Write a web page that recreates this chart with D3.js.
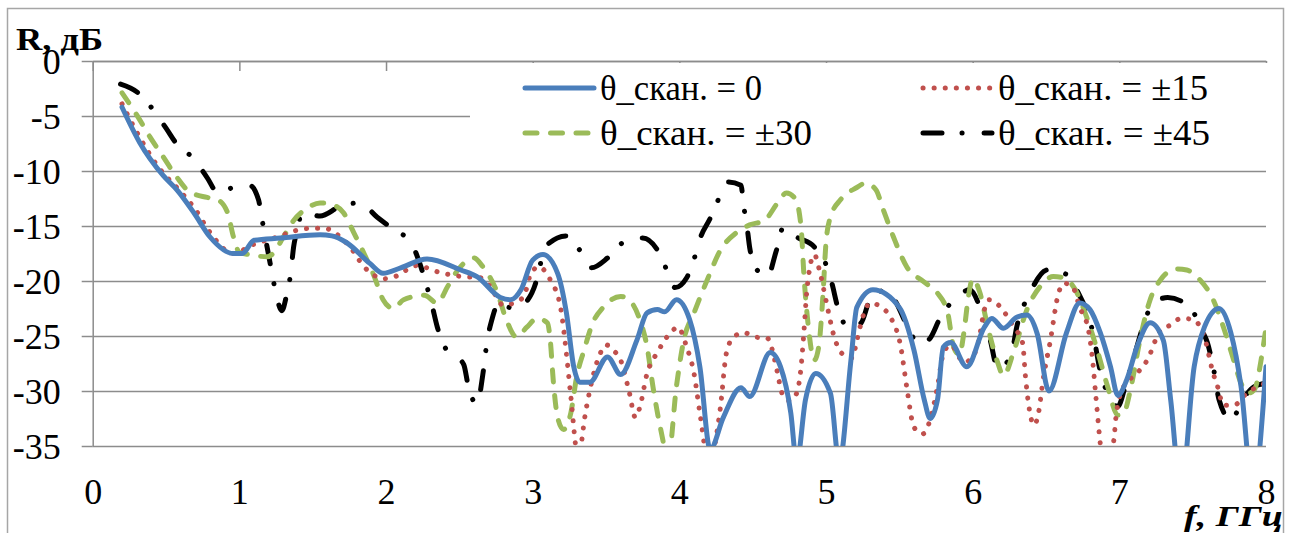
<!DOCTYPE html>
<html>
<head>
<meta charset="utf-8">
<script src="https://cdn.jsdelivr.net/npm/d3@7"></script>
<style>
  html, body { margin: 0; padding: 0; background: #fff; }
  svg { display: block; }
</style>
</head>
<body>
<svg id="chart" width="1294" height="533"></svg>
<script>
// Reflection coefficient R (dB) versus frequency f (GHz) for several scan angles.
const xTicks = [0, 1, 2, 3, 4, 5, 6, 7, 8];
const yTicks = [0, -5, -10, -15, -20, -25, -30, -35];

const seriesLabels = ["θ_скан. = 0", "θ_скан. = ±15", "θ_скан. = ±30", "θ_скан. = ±45"];

const freq0 = [0.2,0.32,0.48,0.58,0.69,0.8,0.96,1.02,1.1,1.28,1.55,1.63,1.73,1.89,1.98,2.1,2.28,2.51,2.62,2.78,2.85,2.92,3.0,3.07,3.17,3.23,3.28,3.32,3.39,3.51,3.6,3.71,3.78,3.85,3.9,3.98,4.07,4.14,4.21,4.3,4.42,4.48,4.62,4.69,4.76,4.8,4.86,4.93,5.03,5.09,5.17,5.21,5.32,5.5,5.6,5.67,5.71,5.76,5.8,5.85,5.96,6.08,6.13,6.21,6.3,6.37,6.44,6.52,6.64,6.73,6.8,6.87,6.94,6.99,7.05,7.12,7.21,7.3,7.35,7.42,7.51,7.58,7.68,7.76,7.83,7.91,8.0];
const r0 = [-4.2,-7.4,-10.4,-11.8,-13.8,-16.0,-17.5,-17.5,-16.3,-16.1,-15.8,-15.9,-16.5,-18.4,-19.3,-18.8,-18.0,-19.0,-19.6,-21.5,-21.7,-20.8,-18.1,-17.6,-19.3,-22.9,-27.8,-29.2,-29.2,-26.9,-28.5,-25.4,-22.9,-22.6,-22.8,-21.7,-23.5,-27.8,-35.3,-32.4,-29.7,-30.5,-26.5,-27.8,-32,-36.5,-30.8,-28.4,-30.2,-36.5,-27.2,-22.4,-20.8,-22.4,-26.3,-30.8,-32.5,-30.8,-26,-25.6,-27.8,-24.2,-23.4,-24.3,-23.3,-23.1,-24.8,-30.0,-24.7,-22,-22.6,-24.7,-27.8,-30.4,-29,-26,-23.8,-25.4,-30.8,-39,-27.8,-24.2,-22.5,-24.7,-29.6,-39,-27.8];

const freq15 = [0.2,0.31,0.44,0.6,0.7,0.79,0.96,1.09,1.26,1.39,1.5,1.58,1.66,1.76,1.85,1.92,1.98,2.06,2.21,2.36,2.52,2.64,2.71,2.8,2.87,2.94,2.98,3.04,3.12,3.19,3.23,3.26,3.31,3.36,3.39,3.46,3.5,3.55,3.6,3.66,3.7,3.73,3.78,3.85,3.94,3.99,4.05,4.1,4.14,4.2,4.28,4.32,4.37,4.44,4.52,4.6,4.63,4.67,4.7,4.75,4.8,4.83,4.85,4.87,4.92,4.96,5.01,5.05,5.11,5.18,5.21,5.26,5.3,5.38,5.44,5.51,5.55,5.6,5.66,5.71,5.76,5.8,5.85,5.94,6.0,6.04,6.08,6.11,6.16,6.24,6.28,6.34,6.36,6.38,6.42,6.45,6.48,6.53,6.58,6.62,6.68,6.73,6.79,6.82,6.84,6.9,6.96,6.98,7.03,7.12,7.19,7.28,7.35,7.42,7.5,7.58,7.64,7.67,7.71,7.78,7.87,7.96,8.0];
const r15 = [-3.9,-6.7,-9.5,-11.9,-13.5,-15.4,-17.5,-16.7,-16.0,-15.4,-15.2,-15.2,-15.7,-17,-18.7,-19.5,-19.8,-19.6,-18.6,-19.2,-19.6,-19.7,-20.5,-22.2,-22,-21.4,-19.6,-18.7,-19.9,-22.4,-26.6,-30.5,-36,-32,-29.9,-26.6,-25.8,-26.3,-27.2,-30.2,-32.4,-31.5,-28.4,-26.5,-24.7,-24.2,-26,-28.4,-32,-36.5,-31.5,-26.6,-25.1,-24.7,-25.1,-25.2,-26.1,-28.4,-30.2,-30.9,-30.2,-27.8,-24.5,-20.8,-17.6,-19.3,-22.4,-24.8,-26.6,-27,-25.4,-22.9,-22,-22.4,-23.3,-26,-29.6,-33.3,-33.9,-32.6,-29.6,-26.6,-25.8,-27.4,-26.9,-25.5,-22.6,-21.7,-22,-23.3,-24.2,-25.6,-28.7,-31.1,-33.1,-31.9,-29,-25.4,-21.4,-20.2,-20.5,-22.4,-24.5,-27.5,-30.5,-37,-34.7,-32,-29.6,-28.4,-27.2,-24.5,-24,-23.4,-23.5,-25.1,-28.4,-29.6,-31.3,-31.3,-30.2,-29.5,-29.3];

const freq30 = [0.2,0.3,0.39,0.48,0.57,0.66,0.78,0.85,0.92,0.96,1.0,1.07,1.19,1.23,1.3,1.37,1.46,1.55,1.64,1.71,1.78,1.85,1.92,1.98,2.05,2.12,2.26,2.35,2.42,2.49,2.6,2.66,2.76,2.82,2.89,2.96,3.03,3.1,3.12,3.14,3.17,3.21,3.26,3.3,3.35,3.41,3.48,3.6,3.67,3.73,3.78,3.82,3.87,3.925,3.98,4.03,4.1,4.19,4.28,4.39,4.48,4.58,4.67,4.73,4.79,4.83,4.85,4.88,4.92,4.95,4.98,5.0,5.03,5.1,5.21,5.27,5.34,5.39,5.46,5.55,5.67,5.76,5.83,5.87,5.91,5.94,5.97,6.0,6.05,6.1,6.17,6.21,6.28,6.37,6.46,6.55,6.62,6.7,6.78,6.85,6.92,6.99,7.03,7.08,7.14,7.21,7.28,7.39,7.46,7.55,7.64,7.71,7.78,7.83,7.88,7.92,7.97,8.0];
const r30 = [-2.9,-4.9,-6.9,-8.7,-10.5,-11.9,-12.4,-12.6,-13.8,-16,-17.4,-17.6,-17.8,-17.5,-16,-14.5,-13.4,-12.9,-13.1,-13.8,-15.6,-17.5,-19.6,-21.7,-22.5,-21.7,-21.3,-22,-20.5,-19,-17.9,-18.7,-21.1,-23.5,-25.1,-24.2,-23.4,-23.8,-25.4,-29,-32.4,-33.5,-32,-28.7,-26.3,-23.8,-22.4,-21.4,-21.9,-23.5,-26,-29.6,-33.3,-36,-29.6,-25.4,-22.9,-19.9,-17.2,-15.6,-14.9,-14.5,-12.9,-12,-12.5,-15.1,-19.6,-24.2,-27.2,-26,-21.1,-16.5,-14.2,-12.6,-11.5,-11.1,-11.7,-13.5,-16,-18.7,-20.1,-21.1,-22.9,-26,-26.7,-24.7,-21.5,-19.8,-21.1,-24,-27.4,-28.6,-26.4,-22.6,-20.5,-19.6,-19.7,-20.8,-23.4,-26.3,-29.6,-32.2,-32,-29.6,-25.4,-21.7,-19.9,-18.9,-19,-19.9,-21.7,-24.2,-27.2,-29.3,-30.2,-29.9,-26.9,-24.2];

const freq45 = [0.19,0.31,0.41,0.5,0.57,0.69,0.78,0.85,0.96,1.07,1.13,1.16,1.21,1.24,1.29,1.32,1.35,1.37,1.39,1.43,1.55,1.69,1.82,1.94,2.05,2.17,2.23,2.27,2.31,2.35,2.4,2.47,2.53,2.56,2.62,2.66,2.69,2.72,2.77,2.84,2.9,2.95,3.02,3.06,3.1,3.23,3.35,3.4,3.52,3.64,3.75,3.86,3.93,3.97,4.05,4.11,4.14,4.21,4.28,4.33,4.42,4.44,4.46,4.48,4.53,4.6,4.66,4.71,4.8,4.92,5.0,5.04,5.08,5.16,5.24,5.3,5.42,5.48,5.55,5.64,5.71,5.78,5.89,5.98,6.05,6.12,6.17,6.26,6.3,6.39,6.51,6.67,6.71,6.77,6.82,6.87,6.92,6.99,7.04,7.1,7.16,7.23,7.33,7.49,7.55,7.6,7.64,7.68,7.76,7.85,7.92,8.0];
const r45 = [-2.1,-2.9,-4.4,-6.1,-7.5,-8.9,-10.6,-11.9,-11.5,-11.3,-12.6,-14.8,-18.4,-20.5,-22.7,-21.4,-19.3,-16.9,-15.6,-13.8,-14.1,-13.2,-12.9,-14.2,-15.3,-16.5,-18.4,-20.1,-22,-24.2,-26,-26.8,-27.6,-29.5,-31.2,-28.5,-25.4,-23.6,-22,-22.4,-22.5,-22,-20.2,-18.1,-16.7,-15.9,-17.8,-18.8,-17.8,-16.3,-16.1,-17.4,-19.5,-20.6,-19.7,-17.6,-16.2,-14.3,-12.2,-11,-11.3,-13.3,-14.9,-17,-19,-19.6,-17.3,-15.1,-16,-16.9,-18.5,-20.2,-22.4,-24.3,-23.8,-21.7,-20.8,-22,-24,-25.8,-25.2,-23.3,-21.5,-20.8,-22.4,-25.4,-27.9,-26.9,-24.2,-21.1,-19,-19.6,-20.8,-22.5,-24.7,-28.2,-30.2,-31.4,-29.6,-26.9,-24.2,-22,-21.5,-22.5,-24.2,-25.6,-27.8,-30.8,-32.6,-30.6,-29.6,-29.3];

const seriesFreq = [freq0, freq15, freq30, freq45];
const seriesR = [r0, r15, r30, r45];

// Line styles for each scan angle
const styles = [
  { color: "#4A7EBB", width: 5, dash: null },
  { color: "#C0504D", width: 5, dash: "0.1 11" },
  { color: "#9BBB59", width: 5, dash: "12 13.5" },
  { color: "#000000", width: 5, dash: "19 20 0.1 22" }
];

const FONT = '"Liberation Serif"';

// apply the serif face directly to a text selection
function serif(sel, size) {
  return sel.attr("font-family", "Liberation Serif")
    .style("font-family", FONT)
    .style("font-size", size + "px")
    .attr("fill", "#000");
}

const svg = d3.select("#chart");
const plot = { left: 92.7, right: 1266, top: 61, bottom: 446 };

// outer chart frame
svg.append("rect")
  .attr("x", 7.5).attr("y", 8.5)
  .attr("width", 1276).attr("height", 560)
  .attr("fill", "#fff").attr("stroke", "#a6a6a6").attr("stroke-width", 1.5);

const x = d3.scaleLinear().domain([0, 8]).range([plot.left, plot.right]);
const y = d3.scaleLinear().domain([-35, 0]).range([plot.bottom, plot.top]);

const gridColor = "#8c8c8c";

// horizontal gridlines
const grid = svg.append("g")
  .attr("transform", `translate(${plot.left},0)`)
  .call(d3.axisLeft(y).tickValues(yTicks).tickSize(-(plot.right - plot.left)).tickFormat(""));
grid.select(".domain").remove();
grid.selectAll("line").attr("stroke", gridColor).attr("stroke-width", 1.5);

// y axis: tick marks and labels
const yAxis = svg.append("g")
  .attr("transform", `translate(${plot.left},0)`)
  .call(d3.axisLeft(y).tickValues(yTicks).tickSizeInner(11).tickSizeOuter(0).tickPadding(21)
    .tickFormat(d => d === 0 ? "0" : "-" + Math.abs(d)));
yAxis.attr("font-family", null).attr("font-size", null);
yAxis.select(".domain").attr("stroke", gridColor).attr("stroke-width", 1.5);
yAxis.selectAll("line").attr("stroke", gridColor).attr("stroke-width", 1.5);
serif(yAxis.selectAll("text"), 36).attr("dy", "0.34em");

// x axis tick marks along the zero line
const xTickAxis = svg.append("g")
  .attr("transform", `translate(0,${plot.top})`)
  .call(d3.axisBottom(x).tickValues(xTicks).tickSizeInner(10).tickSizeOuter(0).tickFormat(""));
xTickAxis.select(".domain").attr("stroke", gridColor).attr("stroke-width", 1.5);
xTickAxis.selectAll("line").attr("stroke", gridColor).attr("stroke-width", 1.5);

// x axis labels below the plot
const xLabelAxis = svg.append("g")
  .attr("transform", `translate(0,${plot.bottom})`)
  .call(d3.axisBottom(x).tickValues(xTicks).tickSize(0).tickPadding(32).tickFormat(d3.format("d")));
xLabelAxis.attr("font-family", null).attr("font-size", null);
xLabelAxis.select(".domain").remove();
serif(xLabelAxis.selectAll("text"), 36);

// clip curves to the plot area
svg.append("clipPath").attr("id", "plotClip")
  .append("rect")
  .attr("x", plot.left).attr("y", plot.top)
  .attr("width", plot.right - plot.left).attr("height", plot.bottom - plot.top);

const line = d3.line()
  .x(d => x(d[0]))
  .y(d => y(d[1]))
  .curve(d3.curveMonotoneX);

// legend background
const legend = svg.append("g");
legend.append("rect")
  .attr("x", 470).attr("y", 63)
  .attr("width", 800).attr("height", 104)
  .attr("fill", "#fff");

const curves = svg.append("g").attr("clip-path", "url(#plotClip)");

// draw order: dash-dot, dashed, dotted, then solid on top
[3, 2, 1, 0].forEach(i => {
  const s = styles[i];
  const pts = d3.zip(seriesFreq[i], seriesR[i]);
  curves.append("path")
    .datum(pts)
    .attr("d", line)
    .attr("fill", "none")
    .attr("stroke", s.color)
    .attr("stroke-width", s.width)
    .attr("stroke-linecap", "round")
    .attr("stroke-linejoin", "round")
    .attr("stroke-dasharray", s.dash);
});

// legend entries
const legendPos = [
  { lx: 522, ty: 88, tw: 162 }, { lx: 920, ty: 88, tw: 210 },
  { lx: 522, ty: 133, tw: 212 }, { lx: 920, ty: 133, tw: 212 }
];
seriesLabels.forEach((label, i) => {
  const p = legendPos[i], s = styles[i];
  legend.append("line")
    .attr("x1", p.lx + 3).attr("x2", p.lx + 72)
    .attr("y1", p.ty).attr("y2", p.ty)
    .attr("stroke", s.color)
    .attr("stroke-width", s.width)
    .attr("stroke-linecap", "round")
    .attr("stroke-dasharray", s.dash);
  serif(legend.append("text"), 35)
    .attr("x", p.lx + 78).attr("y", p.ty + 12)
    .attr("textLength", p.tw).attr("lengthAdjust", "spacingAndGlyphs")
    .text(label);
});

// axis titles
serif(svg.append("text"), 32)
  .attr("x", 16).attr("y", 50)
  .attr("textLength", 87).attr("lengthAdjust", "spacingAndGlyphs")
  .style("font-weight", "bold")
  .text("R, дБ");
serif(svg.append("text"), 30)
  .attr("x", 1184).attr("y", 526)
  .attr("textLength", 99).attr("lengthAdjust", "spacingAndGlyphs")
  .style("font-weight", "bold").style("font-style", "italic")
  .text("f, ГГц");
</script>
</body>
</html>
